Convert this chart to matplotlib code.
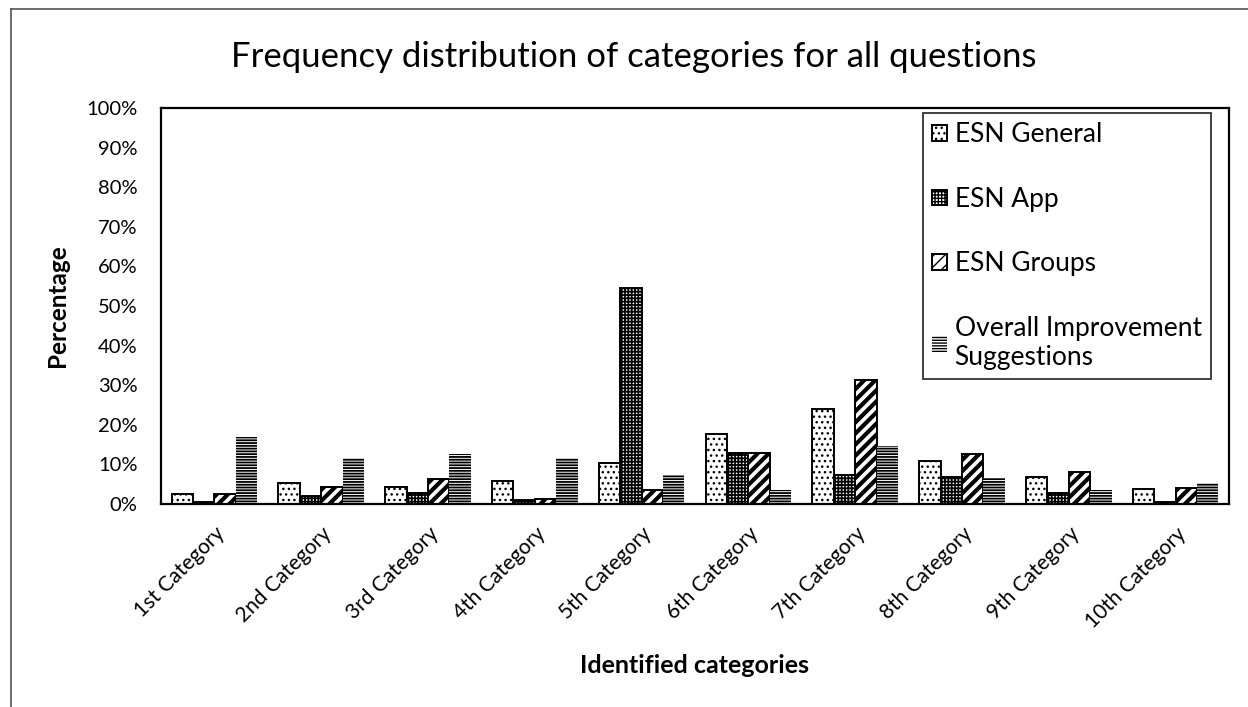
import matplotlib
matplotlib.use("Agg")
import matplotlib.pyplot as plt
import numpy as np
from matplotlib.lines import Line2D
from matplotlib.ticker import PercentFormatter

categories = ["1st Category", "2nd Category", "3rd Category", "4th Category", "5th Category",
              "6th Category", "7th Category", "8th Category", "9th Category", "10th Category"]
series_names = ["ESN General", "ESN App", "ESN Groups", "Overall Improvement\nSuggestions"]
esn_general = [2.6, 5.3, 4.2, 5.7, 10.3, 17.8, 24.1, 10.8, 6.7, 3.8]
esn_app = [0.5, 2.1, 2.7, 1.0, 54.6, 13.0, 7.4, 6.8, 2.7, 0.5]
esn_groups = [2.4, 4.4, 6.3, 1.2, 3.5, 12.9, 31.3, 12.6, 8.0, 4.1]
overall = [16.8, 11.6, 12.7, 11.6, 7.3, 3.5, 14.7, 6.5, 3.5, 5.3]
yticks = [0, 10, 20, 30, 40, 50, 60, 70, 80, 90, 100]

plt.rcParams['font.family'] = ['Lato', 'DejaVu Sans']

W, H = 1248, 707
fig = plt.figure(figsize=(W / 100, H / 100), dpi=100)
ax = fig.add_axes([161 / W, 1 - 504 / H, (1229 - 161) / W, (504 - 108) / H])

x = np.arange(len(categories))
bw = 0.2
data = [esn_general, esn_app, esn_groups, overall]
hatches = ['...', '+++++', '///', '------']
hlws = [1.0, 1.25, 3.0, 1.3]
handles = []
for i, (vals, h, lw) in enumerate(zip(data, hatches, hlws)):
    with plt.rc_context({'hatch.linewidth': lw}):
        bars = ax.bar(x + (i - 1.5) * bw, vals, bw, facecolor='white', edgecolor='black',
                      hatch=h, linewidth=1.4 if i != 3 else 0.0, label=series_names[i])
        for b in bars:
            if hasattr(b, 'set_hatch_linewidth'):
                b.set_hatch_linewidth(lw)
    handles.append(bars)

ax.set_xlim(-0.5, len(categories) - 0.5)
ax.set_ylim(0, 100)
ax.set_yticks(yticks)
ax.yaxis.set_major_formatter(PercentFormatter(decimals=0))
ax.set_xticks(x)
ax.set_xticklabels(categories, rotation=45, ha='right', rotation_mode='anchor', fontsize=15)
ax.tick_params(axis='x', length=0, pad=14)
ax.tick_params(axis='y', length=0, labelsize=14.5, pad=17)
for sp in ax.spines.values():
    sp.set_linewidth(1.6)
    sp.set_color('black')

ax.set_ylabel("Percentage", fontsize=17.5, fontweight='bold', labelpad=12)
ax.set_xlabel("Identified categories", fontsize=18, fontweight='bold', labelpad=16)
fig.text(0.5075, 1 - 57 / H, "Frequency distribution of categories for all questions",
         ha='center', va='center', fontsize=25)

leg = ax.legend(loc='upper left', bbox_to_anchor=((923 - 161) / (1229 - 161), 1 - (113 - 108) / (504 - 108)),
                fontsize=19, frameon=True, fancybox=False, edgecolor='black',
                handlelength=0.55, handleheight=0.55, handletextpad=0.3,
                labelspacing=1.5, borderpad=0.35, borderaxespad=0)
leg.get_frame().set_linewidth(1.3)

# outer chart border
fig.add_artist(Line2D([11 / W, 11 / W], [0, 1 - 9 / H], color='#555555', lw=1.2))
fig.add_artist(Line2D([11 / W, 1], [1 - 9 / H, 1 - 9 / H], color='#555555', lw=1.2))

fig.savefig("out.png", dpi=100)
